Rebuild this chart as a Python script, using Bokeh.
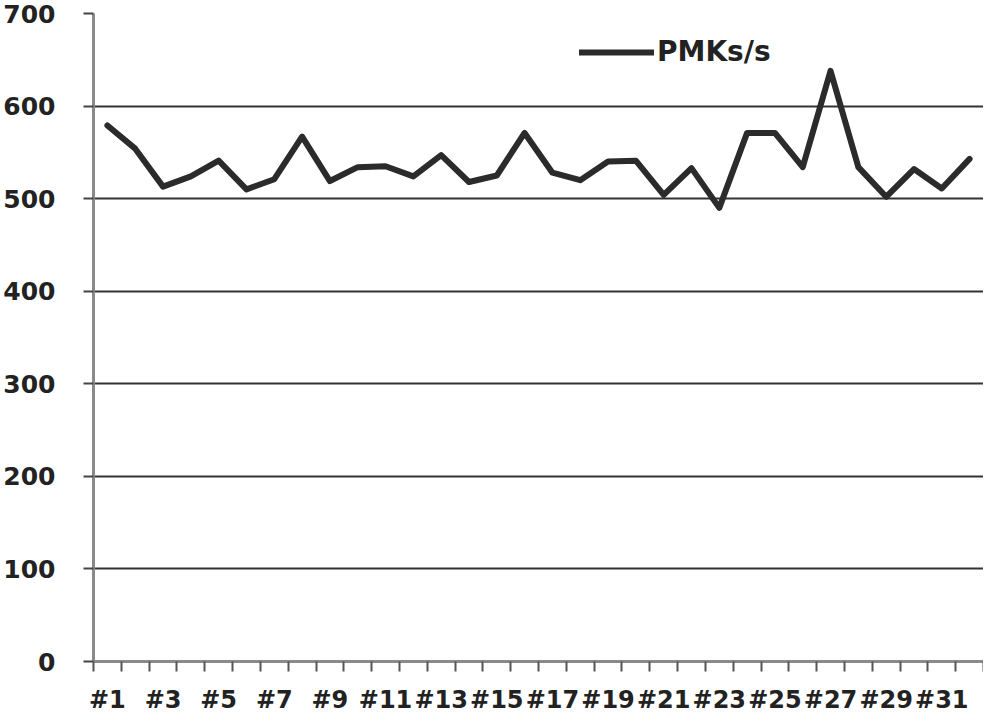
from bokeh.plotting import figure
from bokeh.models import FixedTicker, Range1d, Legend, LegendItem
from bokeh.embed import file_html
from bokeh.resources import INLINE

categories = [f"#{i}" for i in range(1, 33)]
pmks = [579, 554, 513, 524, 541, 510, 521, 567, 519, 534, 535, 524, 547, 518, 525, 571,
        528, 520, 540, 541, 504, 533, 490, 571, 571, 534, 638, 534, 502, 532, 511, 543]
y_ticks = [0, 100, 200, 300, 400, 500, 600, 700]

x = list(range(1, len(categories) + 1))

p = figure(width=983, height=716, output_backend="svg", toolbar_location=None,
           x_range=Range1d(0.5, len(categories) + 0.5), y_range=Range1d(0, 700),
           min_border_left=88, min_border_right=0, min_border_top=13, min_border_bottom=44)
p.outline_line_color = None
p.background_fill_color = "white"
p.border_fill_color = "white"

r = p.line(x, pmks, line_color="#2b2b2b", line_width=6, line_join="round", line_cap="round")

font = "DejaVu Sans"
# x axis
p.xaxis.ticker = FixedTicker(ticks=x[::2], minor_ticks=[v + 0.5 for v in range(0, len(categories) + 1)])
p.xaxis.major_label_overrides = {i: categories[i - 1] for i in x}
p.xaxis.major_tick_out = 0
p.xaxis.major_tick_in = 0
p.xaxis.minor_tick_out = 10
p.xaxis.minor_tick_in = 0
p.xaxis.minor_tick_line_color = "#555555"
p.xaxis.minor_tick_line_width = 2
p.xaxis.axis_line_color = "#8a8a8a"
p.xaxis.axis_line_width = 3
p.xaxis.major_label_text_font = font
p.xaxis.major_label_text_font_style = "bold"
p.xaxis.major_label_text_font_size = "24px"
p.xaxis.major_label_text_color = "#222222"
p.xaxis.major_label_standoff = 14

# y axis
p.yaxis.ticker = FixedTicker(ticks=y_ticks)
p.yaxis.major_tick_out = 10
p.yaxis.major_tick_in = 0
p.yaxis.minor_tick_out = 0
p.yaxis.minor_tick_in = 0
p.yaxis.major_tick_line_color = "#444444"
p.yaxis.major_tick_line_width = 2
p.yaxis.axis_line_color = "#8a8a8a"
p.yaxis.axis_line_width = 3
p.yaxis.major_label_text_font = font
p.yaxis.major_label_text_font_style = "bold"
p.yaxis.major_label_text_font_size = "25px"
p.yaxis.major_label_text_color = "#222222"
p.yaxis.major_label_standoff = 28

p.xgrid.grid_line_color = None
p.ygrid.grid_line_color = "#333333"
p.ygrid.grid_line_width = 2

legend = Legend(items=[LegendItem(label="PMKs/s", renderers=[r])],
                location=(486, 593), padding=0, margin=0, spacing=0,
                glyph_width=75, glyph_height=26, label_height=26, label_standoff=3,
                label_text_font=font, label_text_font_style="bold",
                label_text_font_size="28px", label_text_color="#222222",
                background_fill_alpha=0, border_line_color=None)
p.add_layout(legend)

open("out.html", "w").write(file_html(p, INLINE))
